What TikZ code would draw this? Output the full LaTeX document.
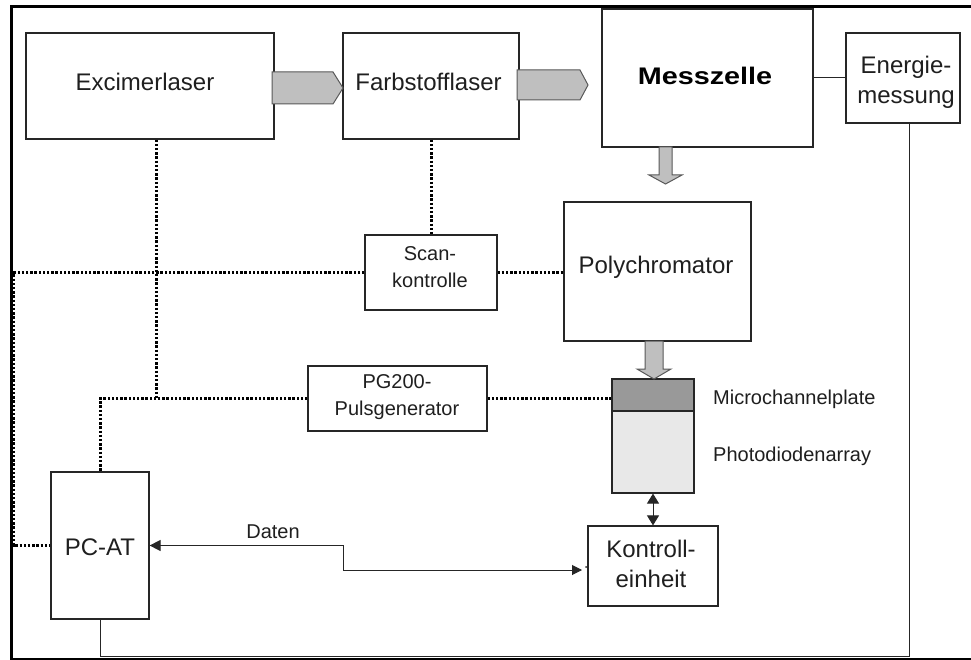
\documentclass[tikz,border=0pt]{standalone}
\usepackage{fontspec}
\setmainfont{Liberation Sans}
\usepackage{graphicx}
\usetikzlibrary{arrows.meta,calc}
\begin{document}
\begin{tikzpicture}[x=1pt,y=-1pt,
  box/.style={draw=black!85, line width=1.2pt, fill=white, inner sep=0pt},
  bigtxt/.style={font=\fontsize{24}{30}\selectfont, text=black!88, inner sep=0pt, align=center},
  smalltxt/.style={font=\fontsize{20}{27}\selectfont, text=black!88, inner sep=0pt, align=center},
  thinline/.style={draw=black!85, line width=1pt},
  dotline/.style={draw=black, line width=3pt, dash pattern=on 2.4pt off 1.8pt},
  blockarrow/.style={fill=black!25, draw=black!65, line width=1pt, line join=miter}
]
\useasboundingbox[fill=white] (0,0) rectangle (971,660);

% frame
\draw[line width=3pt] (980,6.5) -- (11,6.5) -- (11,659) -- (980,659);

% boxes
\node[box, minimum width=248pt, minimum height=106pt] (exc) at (150,86) {};
\node[box, minimum width=176pt, minimum height=106pt] (farb) at (431,86) {};
\node[box, minimum width=211pt, minimum height=138pt] (mess) at (707.5,78) {};
\node[box, minimum width=114pt, minimum height=90pt] (energ) at (903,78) {};
\node[box, minimum width=187pt, minimum height=139pt] (poly) at (657.5,271.5) {};
\node[box, minimum width=132pt, minimum height=75pt] (scan) at (431,272.5) {};
\node[box, minimum width=179pt, minimum height=65pt] (pg) at (397.5,398.5) {};
\node[box, fill=black!40, minimum width=82pt, minimum height=32pt] (mcp) at (653,395) {};
\node[box, fill=black!9, minimum width=82pt, minimum height=82pt] (pda) at (653,452) {};
\node[box, minimum width=130pt, minimum height=80pt] (kont) at (653,566) {};
\node[box, minimum width=98pt, minimum height=147pt] (pcat) at (100,545.5) {};

% texts
\node[bigtxt, anchor=base] (exct) at (145,91) {Excimerlaser};
\node[bigtxt, anchor=base] (farbt) at (428.5,91) {Farbstofflaser};
\node[bigtxt, anchor=base, text=black] (messt) at (705,85) {\scalebox{1.2}[1]{\bfseries Messzelle}};
\node[bigtxt] (energt) at (906,82) {Energie-\\messung};
\node[bigtxt, anchor=base] (polyt) at (656,273) {Polychromator};
\node[smalltxt] (scant) at (430,267) {Scan-\\kontrolle};
\node[smalltxt] (pgt) at (397,397) {PG200-\\Pulsgenerator};
\node[bigtxt] (kontt) at (651,564) {Kontroll-\\einheit};
\node[bigtxt, anchor=base] (pcatt) at (100,555) {PC-AT};
\node[smalltxt, anchor=base] (datent) at (273,538) {Daten};
\node[smalltxt, anchor=base west] (mcpt) at (713,404) {Microchannelplate};
\node[smalltxt, anchor=base west] (pdat) at (713,461) {Photodiodenarray};

% block arrows (beam path)
\draw[blockarrow] (272,72) -- (333,72) -- (343,88) -- (333,104) -- (272,104) -- cycle;
\draw[blockarrow] (517,70) -- (580,70) -- (588,85) -- (580,100) -- (517,100) -- cycle;
\draw[blockarrow] (659,147) -- (672,147) -- (672,175) -- (682,175) -- (665.5,184) -- (649,175) -- (659,175) -- cycle;
\draw[blockarrow] (645,341) -- (663,341) -- (663,369) -- (671,369) -- (654,379) -- (637,369) -- (645,369) -- cycle;

% solid connectors
\draw[thinline] (mess.east) -- (energ.west);
\coordinate (eb) at ($(energ.south)+(6,0)$);
\draw[thinline] (eb) -- ++(0,533) -| (pcat.south);
\draw[thinline, {Triangle[length=10pt,width=12pt]}-{Triangle[length=10pt,width=12pt]}] (pda.south) -- (kont.north);
\coordinate (kin) at (582,570);
\draw[thinline, {Triangle[length=11pt,width=11pt]}-{Triangle[length=10pt,width=10pt]}] (pcat.east) -- (343,545.5) |- (kin);
\fill[black!85] (586,567) circle (1pt);

% dotted control lines
\coordinate (j1) at ($(exc.south)+(6,0)$);
\draw[dotline] (j1) -- (j1 |- pg.west);
\draw[dotline] (farb.south) -- (scan.north);
\coordinate (lc) at (13.5,272.5);
\draw[dotline] (scan.west) -- (lc) |- (pcat.west);
\draw[dotline] (scan.east) -- (scan.east -| poly.west);
\draw[dotline] (pg.west) -| (pcat.north);
\draw[dotline] (pg.east) -- (pg.east -| mcp.west);
\end{tikzpicture}
\end{document}
